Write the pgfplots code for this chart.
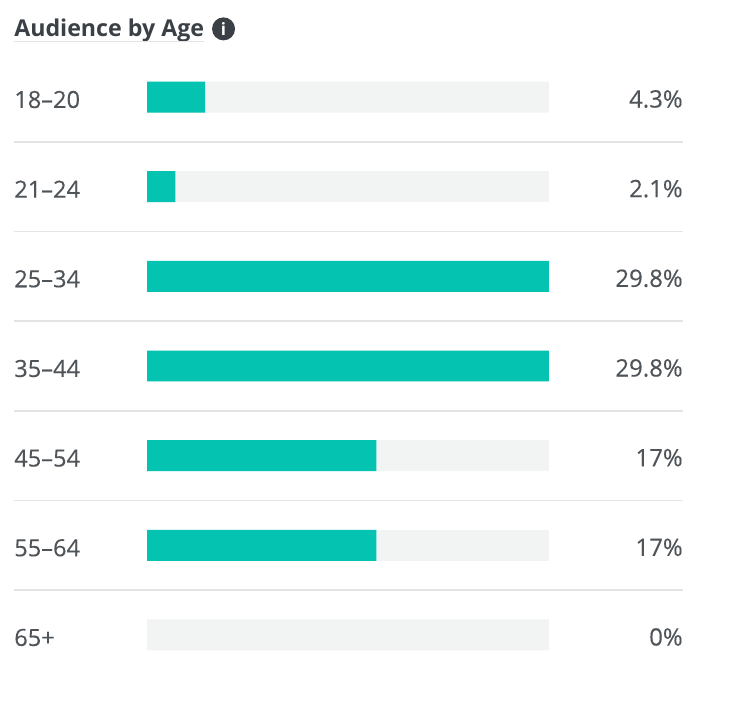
\documentclass[border=0pt]{standalone}
\usepackage{pgfplots}
\pgfplotsset{compat=1.18}
\usepackage{fontspec}
\setmainfont{Open Sans}
\newfontfamily\bodyf{Open Sans}[FakeBold=0.25]
\definecolor{teal1}{HTML}{04C3B0}
\definecolor{track}{HTML}{F2F4F4}
\definecolor{sep}{HTML}{E2E4E5}
\definecolor{txt}{HTML}{4F5459}
\definecolor{ttl}{HTML}{3A4045}
\begin{document}
\begin{tikzpicture}
\begin{axis}[
  at={(0pt,0pt)}, anchor=south west,
  width=735pt, height=706pt, scale only axis,
  xmin=-10.897, xmax=43.587,
  ymin=-1.082, ymax=6.79, y dir=reverse,
  axis line style={draw=none},
  major tick length=0pt, xtick=\empty,
  ytick={0,1,2,3,4,5,6},
  yticklabels={18–20,21–24,25–34,35–44,45–54,55–64,65+},
  yticklabel style={anchor=west, xshift=14pt, yshift=-2.5pt, font=\bodyf\fontsize{23.6}{27}\selectfont, text=txt, inner sep=0pt},
  unbounded coords=jump,
  clip=false,
]
% separators
\addplot[draw=sep, line width=1.6pt, forget plot] coordinates {
 (-9.86,0.5) (39.73,0.5) (nan,nan)
 (-9.86,1.5) (39.73,1.5) (nan,nan)
 (-9.86,2.5) (39.73,2.5) (nan,nan)
 (-9.86,3.5) (39.73,3.5) (nan,nan)
 (-9.86,4.5) (39.73,4.5) (nan,nan)
 (-9.86,5.5) (39.73,5.5)
};
% track
\addplot[xbar, bar width=31pt, bar shift=0pt, fill=track, draw=none, forget plot] coordinates {
 (29.8,0) (29.8,1) (29.8,2) (29.8,3) (29.8,4) (29.8,5) (29.8,6)};
% values (65+ is 0%, so it has no visible bar)
\addplot[xbar, bar width=31pt, bar shift=0pt, fill=teal1, draw=none, forget plot] coordinates {
 (4.3,0) (2.1,1) (29.8,2) (29.8,3) (17,4) (17,5)};
% value labels
\addplot[draw=none, mark=none, forget plot,
  point meta=explicit symbolic,
  nodes near coords,
  nodes near coords style={anchor=east, inner sep=0pt, yshift=-2pt, font=\bodyf\fontsize{24}{27}\selectfont, text=txt},
] table[meta=lab, row sep=\\] {
 x y lab\\
 39.73 0 4.3\%\\
 39.73 1 2.1\%\\
 39.73 2 29.8\%\\
 39.73 3 29.8\%\\
 39.73 4 17\%\\
 39.73 5 17\%\\
 39.73 6 0\%\\
};
\node[anchor=base west, inner sep=0pt, text=ttl, font=\bfseries\fontsize{23.2}{27}\selectfont]
  at (axis cs:-9.86,-0.68) {Audience by Age};
\draw[sep, line width=1.2pt] (axis cs:-9.86,-0.617) -- (axis cs:4.22,-0.617);
\fill[ttl] (axis cs:5.67,-0.76) circle[radius=11.5pt];
\node[text=white, font=\bfseries\fontsize{17}{17}\selectfont, inner sep=0pt] at (axis cs:5.67,-0.76) {i};
\end{axis}
\end{tikzpicture}
\end{document}
